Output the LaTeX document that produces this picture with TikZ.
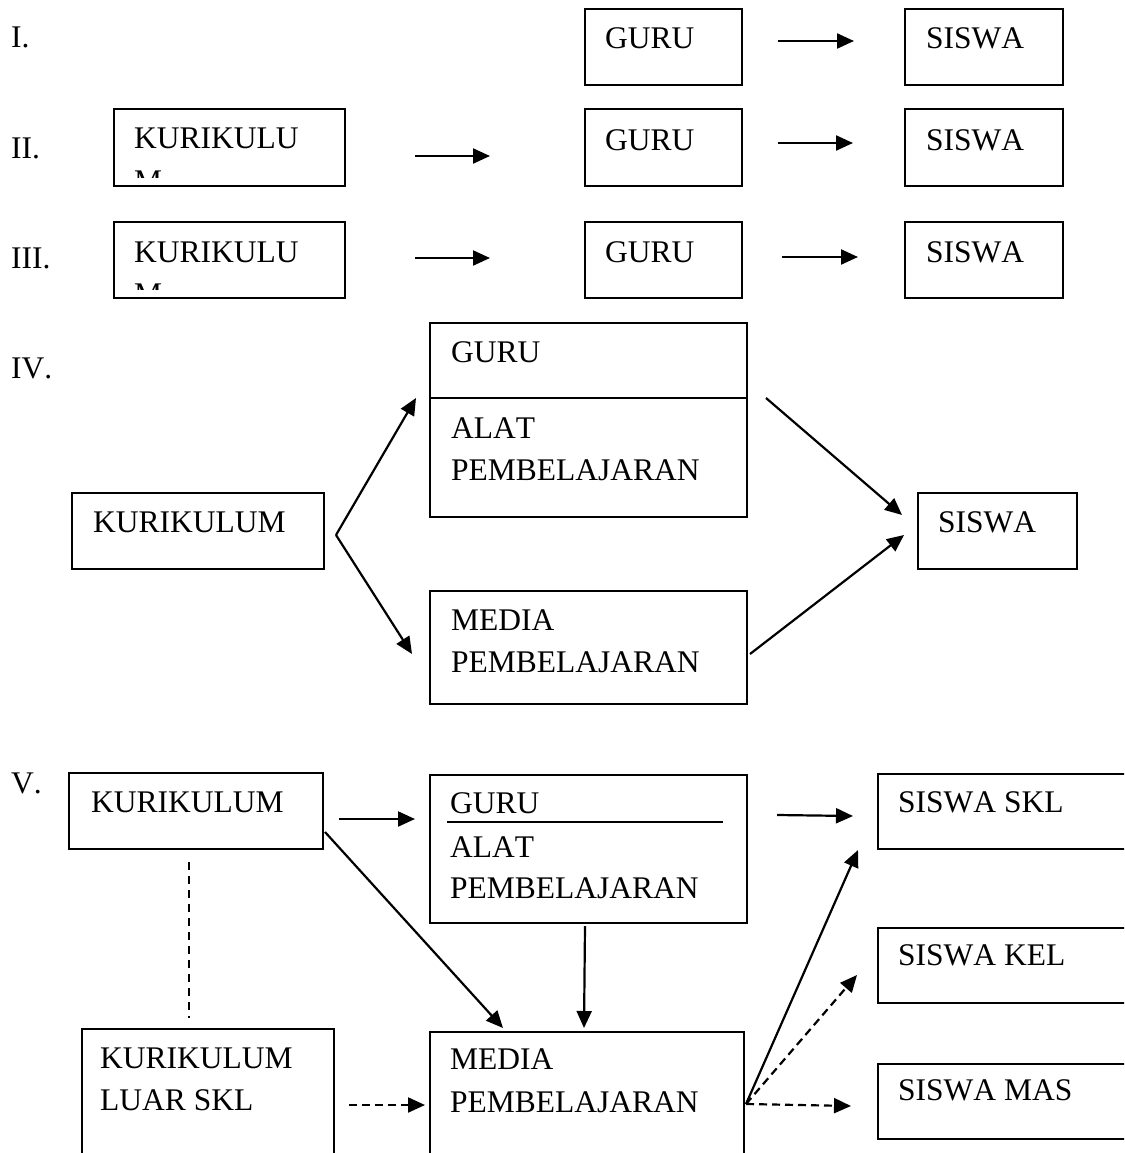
\documentclass[tikz,border=0pt]{standalone}
\usepackage{fontspec}
\setmainfont{Liberation Serif}[Kerning=Off]
\usetikzlibrary{arrows.meta}

\tikzset{
  box/.style={draw, line width=2pt, inner sep=0pt, anchor=north west},
  txt/.style={inner sep=0pt, anchor=base west, font=\fontsize{31.5}{42}\selectfont},
  arr/.style={-{Triangle[length=17pt,width=15pt]}, line width=2.2pt},
  darr/.style={arr, dash pattern=on 8pt off 5pt},
  dline/.style={line width=1.5pt, dash pattern=on 8pt off 6pt}
}

\begin{document}
\begin{tikzpicture}[x=1pt, y=-1pt]
		\useasboundingbox (0,0) rectangle (1124,1153);
		\clip (0,0) rectangle (1124,1153);
		% I.
		\node[txt] (lab1) at (11,48) {I.};
		\node[box, minimum width=157pt, minimum height=76pt] (g1) at (584,8) {};
		\node[box, minimum width=158pt, minimum height=76pt] (s1) at (904,8) {};
		\node[txt] (g1t) at (605,49) {GURU};
		\node[txt] (s1t) at (926,49) {SISWA};
		\draw[arr] ([xshift=35pt,yshift=6pt]g1.east) -- ([xshift=-50pt,yshift=6pt]s1.west);
		% II.
		\node[txt] (lab2) at (11,158) {II.};
		\begin{scope}
			\clip (113,108) rectangle (344,177);
			\node[txt] (k2t) at (134,149) {KURIKULU};
			\node[txt] (k2m) at (134,191) {M};
		\end{scope}
		\node[box, minimum width=231pt, minimum height=77pt] (k2) at (113,108) {};
		\node[box, minimum width=157pt, minimum height=77pt] (g2) at (584,108) {};
		\node[box, minimum width=158pt, minimum height=77pt] (s2) at (904,108) {};
		\node[txt] (g2t) at (605,150) {GURU};
		\node[txt] (s2t) at (926,150) {SISWA};
		\draw[arr] ([xshift=69pt,yshift=-8.5pt]k2.east) -- ([xshift=-94pt,yshift=-8.5pt]g2.west);
		\draw[arr] ([xshift=35pt,yshift=4.5pt]g2.east) -- ([xshift=-51pt,yshift=4.5pt]s2.west);
		% III.
		\node[txt] (lab3) at (11,268) {III.};
		\begin{scope}
			\clip (113,221) rectangle (344,289);
			\node[txt] (k3t) at (134,262) {KURIKULU};
			\node[txt] (k3m) at (134,304) {M};
		\end{scope}
		\node[box, minimum width=231pt, minimum height=76pt] (k3) at (113,221) {};
		\node[box, minimum width=157pt, minimum height=76pt] (g3) at (584,221) {};
		\node[box, minimum width=158pt, minimum height=76pt] (s3) at (904,221) {};
		\node[txt] (g3t) at (605,262) {GURU};
		\node[txt] (s3t) at (926,262) {SISWA};
		\draw[arr] ([xshift=69pt,yshift=2pt]k3.east) -- ([xshift=-94pt,yshift=2pt]g3.west);
		\draw[arr] ([xshift=39pt,yshift=3pt]g3.east) -- ([xshift=-46pt,yshift=3pt]s3.west);
		% IV.
		\node[txt] (lab4) at (11,378) {IV.};
		\node[box, minimum width=252pt, minimum height=76pt] (k4) at (71,492) {};
		\node[box, minimum width=317pt, minimum height=194pt] (ga4) at (429,322) {};
		\node[box, minimum width=317pt, minimum height=113pt] (m4) at (429,590) {};
		\node[box, minimum width=159pt, minimum height=76pt] (s4) at (917,492) {};
		\draw[line width=2pt] ([yshift=-76pt]ga4.north west) -- ([yshift=-76pt]ga4.north east);
		\node[txt] (k4t) at (93,532) {KURIKULUM};
		\node[txt] (ga4t) at (451,362) {GURU};
		\node[txt] (ga4a) at (451,438) {ALAT};
		\node[txt] (ga4b) at (451,480) {PEMBELAJARAN};
		\node[txt] (m4a) at (451,630) {MEDIA};
		\node[txt] (m4b) at (451,672) {PEMBELAJARAN};
		\node[txt] (s4t) at (938,532) {SISWA};
		\draw[arr] ([xshift=11pt,yshift=-4pt]k4.east) -- ([xshift=-13pt,yshift=-76pt]ga4.north west);
		\draw[arr] ([xshift=11pt,yshift=-4pt]k4.east) -- ([xshift=-17pt,yshift=-6.5pt]m4.west);
		\draw[arr] ([xshift=18pt,yshift=-76pt]ga4.north east) -- ([xshift=-15pt,yshift=16pt]s4.west);
		\draw[arr] ([xshift=2pt,yshift=-6.5pt]m4.east) -- ([xshift=-13pt,yshift=-4pt]s4.west);
		% V.
		\node[txt] (lab5) at (11,793) {V.};
		\node[box, minimum width=254pt, minimum height=76pt] (k5) at (68,772) {};
		\node[box, minimum width=317pt, minimum height=148pt] (ga5) at (429,774) {};
		\node[box, minimum width=270pt, minimum height=75pt] (sk5) at (877,773) {};
		\node[box, minimum width=270pt, minimum height=75pt] (sl5) at (877,927) {};
		\node[box, minimum width=270pt, minimum height=75pt] (sm5) at (877,1063) {};
		\node[box, minimum width=252pt, minimum height=150pt] (l5) at (81,1028) {};
		\node[box, minimum width=314pt, minimum height=150pt] (m5) at (429,1031) {};
		\draw[line width=2pt] ([xshift=18pt,yshift=-48pt]ga5.north west) -- ([xshift=-25pt,yshift=-48pt]ga5.north east);
		\node[txt] (k5t) at (91,812) {KURIKULUM};
		\node[txt] (ga5t) at (450,813) {GURU};
		\node[txt] (ga5a) at (450,857) {ALAT};
		\node[txt] (ga5b) at (450,898) {PEMBELAJARAN};
		\node[txt] (sk5t) at (898,812) {SISWA SKL};
		\node[txt] (sl5t) at (898,965) {SISWA KEL};
		\node[txt] (sm5t) at (898,1100) {SISWA MAS};
		\node[txt] (l5a) at (100,1068) {KURIKULUM};
		\node[txt] (l5b) at (100,1110) {LUAR SKL};
		\node[txt] (m5a) at (450,1069) {MEDIA};
		\node[txt] (m5b) at (450,1112) {PEMBELAJARAN};
		\coordinate (mo) at ([xshift=1pt,yshift=-73pt]m5.north east);
		\draw[arr] ([xshift=15pt,yshift=-8pt]k5.east) -- ([xshift=-14pt,yshift=30pt]ga5.west);
		\draw[arr] ([xshift=29pt,yshift=-41pt]ga5.north east) -- ([xshift=-24pt,yshift=-4.5pt]sk5.west);
		\draw[arr] ([xshift=1pt,yshift=18pt]k5.south east) -- ([xshift=74pt,yshift=3pt]m5.north west);
		\draw[arr] ([xshift=-3.5pt,yshift=-2pt]ga5.south) -- ([xshift=155pt,yshift=3pt]m5.north west);
		\draw[dline] ([xshift=121pt,yshift=-12pt]k5.south west) -- ([xshift=108pt,yshift=10pt]l5.north west);
		\draw[darr] ([xshift=14pt,yshift=-77pt]l5.north east) -- ([xshift=-4pt,yshift=-74pt]m5.north west);
		\draw[arr] (mo) -- ([xshift=-19pt]sk5.south west);
		\draw[darr] (mo) -- ([xshift=-20pt,yshift=-9.5pt]sl5.west);
		\draw[darr] (mo) -- ([xshift=-26pt,yshift=-4.5pt]sm5.west);
\end{tikzpicture}
\end{document}
